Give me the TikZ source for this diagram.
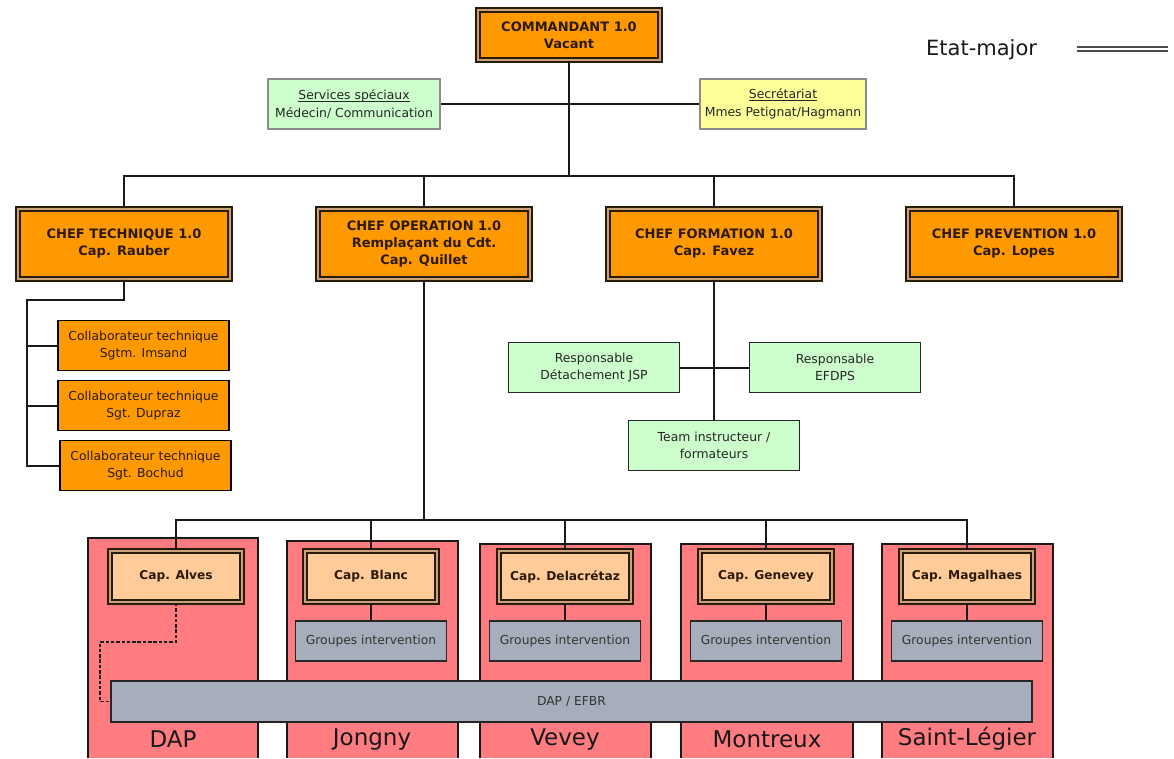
\documentclass[tikz,border=0pt]{standalone}
\usepackage{fontspec}
\setmainfont{DejaVu Sans}
\definecolor{org}{HTML}{FF9900}
\definecolor{lorg}{HTML}{FFCC99}
\definecolor{rosy}{HTML}{FF7C80}
\definecolor{slate}{HTML}{A6AEBC}
\definecolor{mint}{HTML}{CCFFCC}
\definecolor{lemon}{HTML}{FFFF99}
\definecolor{frame}{HTML}{2A1A0A}
\definecolor{gapc}{HTML}{C9A27A}
\definecolor{ink}{HTML}{2B1A08}
\newcommand\myul[1]{\leavevmode\setbox0\hbox{#1}\rlap{\raisebox{-2.2pt}{\rule{\wd0}{0.9pt}}}\box0}
\tikzset{
  base/.style={inner sep=0pt, align=center, font=\fontsize{12.4}{17.5}\selectfont},
  chef/.style={base, fill=org, draw=frame, double=gapc, double distance=1.6pt, line width=1.8pt,
    text=ink, font=\fontsize{13}{17}\selectfont\bfseries},
  capbox/.style={base, fill=lorg, draw=frame, double=gapc, double distance=1.6pt, line width=1.8pt,
    text=ink, minimum width=132pt, minimum height=51pt, font=\fontsize{12.2}{14}\selectfont\bfseries},
  collab/.style={base, fill=org, draw=black, line width=1.6pt, text=ink, minimum width=171pt, minimum height=50pt},
  greenbox/.style={base, fill=mint, draw=black!85, line width=1.4pt, text=black!85, minimum width=171pt, minimum height=50pt},
  groupbox/.style={base, fill=slate, draw=black!85, line width=1.4pt, text=black!80, minimum width=151pt, minimum height=40pt,
    font=\fontsize{12.3}{14}\selectfont},
  place/.style={base, text=black!90, font=\fontsize{23}{26}\selectfont},
  conn/.style={line width=2pt, draw=black!90},
}
\begin{document}
\begin{tikzpicture}[x=1pt,y=-1pt]
\useasboundingbox[fill=white] (0,0) rectangle (1174,758);

% location areas
\foreach \l/\r/\t in {88/258/538, 287/458/541, 480/651/544, 681/853/544, 882/1053/544}{
  \fill[rosy] (\l,758) rectangle (\r,\t);
  \draw[line width=1.6pt, black!90] (\l,758) -- (\l,\t) -- (\r,\t) -- (\r,758);
}
\node[place] (ldap) at (173,739) {DAP};
\node[place] (ljon) at (372,739) {Jongny};
\node[place] (lvev) at (565,739) {Vevey};
\node[place] (lmon) at (767,739) {Montreux};
\node[place] (lsai) at (967,739) {Saint-Légier};

% top
\node[chef, minimum width=182pt, minimum height=50pt] (cmd) at (569,35) {COMMANDANT 1.0\\Vacant};
\node[base, fill=mint, draw=black!45, line width=1.2pt, minimum width=172pt, minimum height=50pt, text=black!85] (svc) at (354,104) {\myul{Services spéciaux}\\Médecin/ Communication};
\node[base, fill=lemon, draw=black!45, line width=1.2pt, minimum width=166pt, minimum height=50pt, text=black!85] (sec) at (783,104) {\myul{Secrétariat}\\Mmes Petignat/Hagmann};

\node[base, text=black!90, font=\fontsize{21}{24}\selectfont, anchor=west] (em) at (926,50) {Etat-major};
\coordinate (ema) at (1077,49);
\coordinate (emb) at (1168,49);
\draw[draw=black!70, double=white, double distance=1.6pt, line width=2pt] (ema) -- (emb);

% chefs
\node[chef, minimum width=212pt, minimum height=70pt] (ct) at (124,244) {CHEF TECHNIQUE 1.0\\Cap. Rauber};
\node[chef, minimum width=212pt, minimum height=70pt] (co) at (424,244) {CHEF OPERATION 1.0\\Remplaçant du Cdt.\\Cap. Quillet};
\node[chef, minimum width=212pt, minimum height=70pt] (cf) at (714,244) {CHEF FORMATION 1.0\\Cap. Favez};
\node[chef, minimum width=212pt, minimum height=70pt] (cp) at (1014,244) {CHEF PREVENTION 1.0\\Cap. Lopes};

% collaborators
\node[collab] (c1) at (143.5,345.5) {Collaborateur technique\\Sgtm. Imsand};
\node[collab] (c2) at (143.5,405.5) {Collaborateur technique\\Sgt. Dupraz};
\node[collab] (c3) at (145.5,465.5) {Collaborateur technique\\Sgt. Bochud};

% formation
\node[greenbox] (jsp) at (594,367.5) {Responsable\\Détachement JSP};
\node[greenbox] (efd) at (835,367.5) {Responsable\\EFDPS};
\node[greenbox] (team) at (714,445.5) {Team instructeur /\\formateurs};

% caps
\node[capbox] (alves) at (176,576.5) {Cap. Alves};
\node[capbox] (blanc) at (371,576.5) {Cap. Blanc};
\node[capbox] (delac) at (565,576.5) {Cap. Delacrétaz};
\node[capbox] (genev) at (766,576.5) {Cap. Genevey};
\node[capbox] (magal) at (967,576.5) {Cap. Magalhaes};

\node[groupbox] (g1) at (371,641) {Groupes intervention};
\node[groupbox] (g2) at (565,641) {Groupes intervention};
\node[groupbox] (g3) at (766,641) {Groupes intervention};
\node[groupbox] (g4) at (967,641) {Groupes intervention};

\node[base, fill=slate, draw=black!85, line width=1.4pt, minimum width=921pt, minimum height=41pt, text=black!80,
  font=\fontsize{12.3}{14}\selectfont] (bar) at (571.5,701.5) {DAP / EFBR};

% connectors
\coordinate (bus1) at (569,176);
\coordinate (bus2) at (424,520);
\coordinate (tk) at (26.5,300);
\coordinate (d1) at (100,642);

\draw[conn] (cmd.south) -- (bus1);
\draw[conn] (svc.east) -- (sec.west);
\draw[conn] (ct.north) |- (bus1) -| (cp.north);
\draw[conn] (co.north) -- (co.north |- bus1);
\draw[conn] (cf.north) -- (cf.north |- bus1);

\draw[conn] (ct.south) |- (tk) |- (c3.west);
\draw[conn] (c1.west) -- (c1.west -| tk);
\draw[conn] (c2.west) -- (c2.west -| tk);

\draw[conn] (cf.south) -- (team.north);
\draw[conn] (jsp.east) -- (efd.west);

\draw[conn] (co.south) -- (bus2);
\draw[conn] (alves.north) |- (bus2) -| (magal.north);
\draw[conn] (blanc.north) -- (blanc.north |- bus2);
\draw[conn] (delac.north) -- (delac.north |- bus2);
\draw[conn] (genev.north) -- (genev.north |- bus2);

\draw[conn] (blanc.south) -- (g1.north);
\draw[conn] (delac.south) -- (g2.north);
\draw[conn] (genev.south) -- (g3.north);
\draw[conn] (magal.south) -- (g4.north);

\draw[conn, line width=1.5pt, dash pattern=on 3.5pt off 1.8pt] (alves.south) |- (d1) |- (bar.west);
\end{tikzpicture}
\end{document}
